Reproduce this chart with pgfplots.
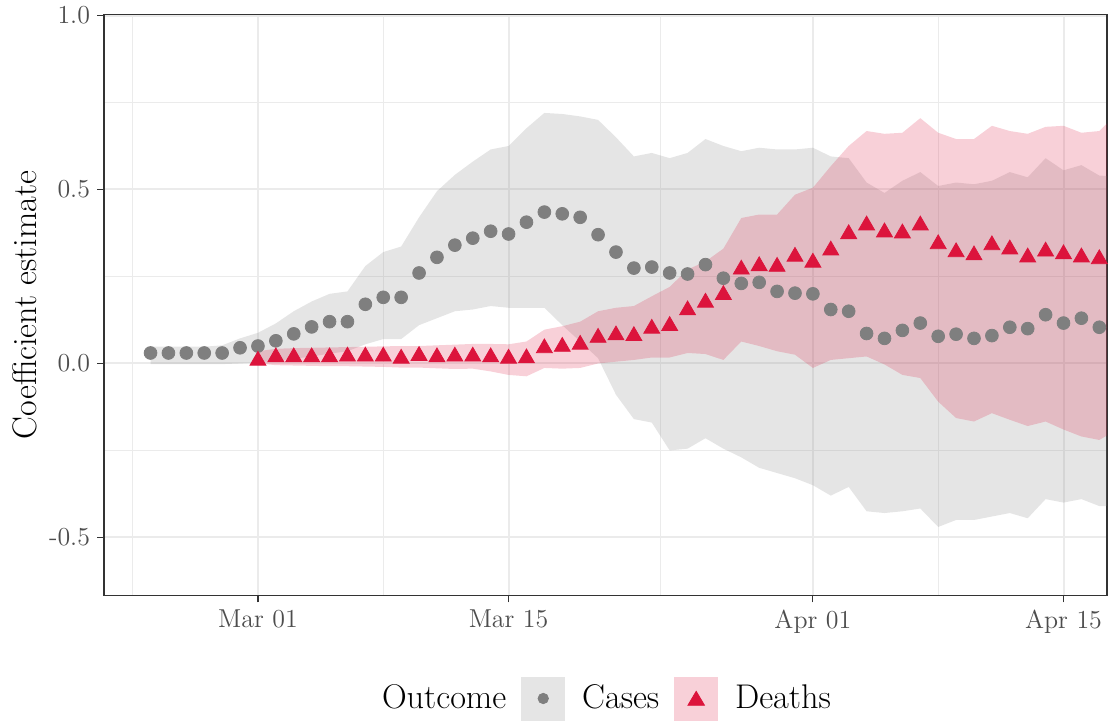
\documentclass[border=0pt]{standalone}
\usepackage{pgfplots}
\usepackage{pgfplotstable}
\pgfplotsset{compat=1.18}
\usepgfplotslibrary{fillbetween}
\definecolor{casegray}{RGB}{127,127,127}
\definecolor{crim}{RGB}{220,20,60}
\definecolor{keygray}{RGB}{229,229,229}
\definecolor{keypink}{RGB}{248,208,216}
\definecolor{gridc}{RGB}{235,235,235}
\definecolor{frame}{RGB}{51,51,51}
\definecolor{ticklab}{RGB}{77,77,77}
\pgfplotstableread{
d c cu cl
-6 0.030 0.048 -0.002
-5 0.030 0.048 -0.002
-4 0.030 0.048 -0.002
-3 0.030 0.048 -0.002
-2 0.030 0.052 -0.002
-1 0.045 0.072 0.000
0 0.050 0.088 0.003
1 0.065 0.115 0.008
2 0.085 0.150 0.013
3 0.105 0.178 0.020
4 0.120 0.200 0.028
5 0.120 0.207 0.035
6 0.170 0.280 0.055
7 0.190 0.320 0.070
8 0.190 0.336 0.070
9 0.260 0.420 0.110
10 0.305 0.495 0.130
11 0.340 0.542 0.150
12 0.360 0.580 0.155
13 0.380 0.615 0.165
14 0.372 0.625 0.160
15 0.406 0.676 0.160
16 0.435 0.720 0.160
17 0.430 0.717 0.110
18 0.420 0.710 0.063
19 0.370 0.700 0.015
20 0.320 0.650 -0.090
21 0.274 0.595 -0.160
22 0.277 0.605 -0.170
23 0.260 0.590 -0.250
24 0.257 0.605 -0.245
25 0.284 0.645 -0.215
26 0.245 0.625 -0.245
27 0.230 0.610 -0.270
28 0.233 0.620 -0.300
29 0.207 0.615 -0.315
30 0.202 0.615 -0.330
31 0.200 0.620 -0.350
32 0.155 0.595 -0.380
33 0.150 0.590 -0.355
34 0.086 0.520 -0.425
35 0.072 0.490 -0.430
36 0.095 0.525 -0.425
37 0.116 0.550 -0.417
38 0.078 0.510 -0.470
39 0.084 0.520 -0.450
40 0.072 0.515 -0.450
41 0.080 0.525 -0.440
42 0.104 0.550 -0.430
43 0.100 0.535 -0.445
44 0.140 0.590 -0.390
45 0.116 0.555 -0.400
46 0.130 0.570 -0.390
47 0.104 0.540 -0.410
48 0.104 0.537 -0.410
}\cases
\pgfplotstableread{
d v du dl
0 0.008 0.035 0.000
1 0.018 0.042 -0.005
2 0.018 0.044 -0.006
3 0.018 0.045 -0.007
4 0.018 0.046 -0.008
5 0.020 0.047 -0.008
6 0.020 0.048 -0.009
7 0.020 0.049 -0.010
8 0.014 0.050 -0.012
9 0.022 0.050 -0.012
10 0.018 0.052 -0.014
11 0.020 0.054 -0.016
12 0.020 0.056 -0.015
13 0.018 0.056 -0.023
14 0.014 0.055 -0.033
15 0.015 0.063 -0.037
16 0.044 0.097 -0.013
17 0.048 0.107 -0.015
18 0.054 0.120 -0.013
19 0.074 0.150 0.000
20 0.081 0.160 0.005
21 0.079 0.165 0.010
22 0.100 0.193 0.017
23 0.108 0.220 0.017
24 0.153 0.270 0.030
25 0.175 0.293 0.027
26 0.197 0.330 0.010
27 0.270 0.418 0.063
28 0.280 0.428 0.050
29 0.278 0.428 0.035
30 0.307 0.485 0.025
31 0.290 0.505 -0.013
32 0.325 0.567 0.010
33 0.372 0.625 0.015
34 0.397 0.668 0.020
35 0.377 0.660 -0.003
36 0.374 0.663 -0.033
37 0.397 0.705 -0.042
38 0.343 0.663 -0.110
39 0.320 0.645 -0.157
40 0.311 0.645 -0.167
41 0.340 0.683 -0.143
42 0.328 0.668 -0.162
43 0.305 0.660 -0.180
44 0.322 0.680 -0.167
45 0.314 0.683 -0.190
46 0.305 0.663 -0.210
47 0.300 0.668 -0.220
48 0.300 0.720 -0.190
}\deaths
\begin{document}
\begin{tikzpicture}
\begin{axis}[
  anchor=south west, at={(0,0)},
  scale only axis, width=501.5bp, height=290.5bp,
  xmin=-8.6, xmax=47.43, ymin=-0.667, ymax=1.003,
  xtick={0,14,31,45}, xticklabels={Mar 01,Mar 15,Apr 01,Apr 15},
  minor xtick={-7,7,22.5,38},
  ytick={-0.5,0,0.5,1}, yticklabels={-0.5,0.0,0.5,1.0},
  minor ytick={-0.25,0.25,0.75},
  grid=both,
  major grid style={color=gridc, line width=1bp},
  minor grid style={color=gridc, line width=0.5bp},
  tick pos=left, tick align=outside,
  major tick length=3.5bp, minor tick length=0pt,
  tick style={color=frame, line width=0.55bp},
  axis line style={color=frame, line width=0.55bp},
  ticklabel style={font=\fontsize{13}{15}\selectfont, text=ticklab},
  ylabel={Coefficient estimate},
  ylabel style={font=\fontsize{17.1}{20}\selectfont, at={(axis description cs:-0.0788,0.5)}, anchor=center},
  legend columns=3,
  legend style={draw=none, fill=none, font=\fontsize{17.2}{20}\selectfont,
    at={(axis description cs:0.4925,-0.1773)}, anchor=center,
    nodes={inner sep=0pt},
    /tikz/every odd column/.append style={column sep=8.5bp},
    /tikz/every even column/.append style={column sep=7.5bp}},
]
\addplot[forget plot, only marks, mark=*, mark size=3.2bp, mark options={fill=casegray, draw=none}, color=casegray] table[x=d, y=c] {\cases};
\addplot[forget plot, only marks, mark=triangle*, mark size=4.6bp, mark options={fill=crim, draw=none}, color=crim] table[x=d, y=v] {\deaths};
\addplot[forget plot, draw=none, name path=cu] table[x=d, y=cu] {\cases};
\addplot[forget plot, draw=none, name path=cl] table[x=d, y=cl] {\cases};
\addplot[forget plot, draw=none, name path=du] table[x=d, y=du] {\deaths};
\addplot[forget plot, draw=none, name path=dl] table[x=d, y=dl] {\deaths};
\addplot[forget plot, fill=casegray, fill opacity=0.2, draw=none] fill between[of=cu and cl];
\addplot[forget plot, fill=crim, fill opacity=0.2, draw=none] fill between[of=du and dl];
\addlegendimage{empty legend}
\addlegendentry{Outcome}
\addlegendimage{legend image code/.code={\fill[keygray] (0bp,-10.75bp) rectangle (21.5bp,10.75bp); \fill[casegray] (10.75bp,0bp) circle (2.6bp);}}
\addlegendentry{Cases}
\addlegendimage{legend image code/.code={\fill[keypink] (0bp,-10.75bp) rectangle (21.5bp,10.75bp); \fill[crim] (10.75bp,3.6bp) -- (6.6bp,-3.4bp) -- (14.9bp,-3.4bp) -- cycle;}}
\addlegendentry{Deaths}
\end{axis}
\useasboundingbox (-52bp,-61.5bp) rectangle (503.5bp,297bp);
\end{tikzpicture}
\end{document}
